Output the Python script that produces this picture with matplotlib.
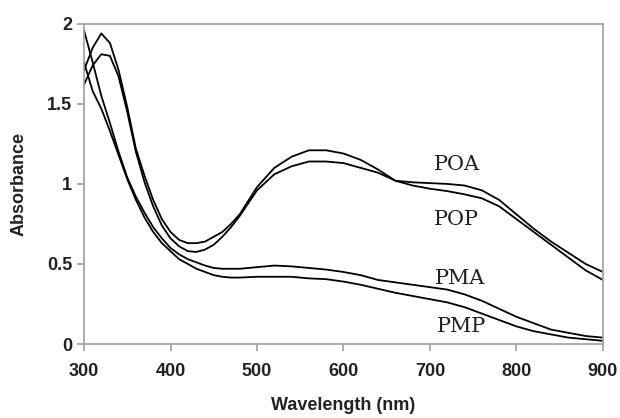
import numpy as np
import matplotlib.pyplot as plt

# wavelength grid (nm)
wl = [300, 310, 320, 330, 340, 350, 360, 370, 380, 390, 400, 410, 420, 430, 440, 450, 460, 470, 480,
      500, 520, 540, 560, 580, 600, 620, 640, 660, 680, 700, 720, 740, 760, 780, 800, 820, 840, 860, 880, 900]

poa = [1.71, 1.85, 1.94, 1.88, 1.71, 1.48, 1.22, 1.05, 0.90, 0.78, 0.70, 0.65, 0.63, 0.63, 0.64, 0.67, 0.70, 0.75, 0.81,
       0.98, 1.10, 1.17, 1.21, 1.21, 1.19, 1.15, 1.09, 1.02, 1.01, 1.005, 1.0, 0.99, 0.96, 0.90, 0.81, 0.72, 0.64, 0.57, 0.50, 0.45]
pop = [1.62, 1.74, 1.81, 1.80, 1.67, 1.45, 1.20, 1.01, 0.86, 0.74, 0.66, 0.61, 0.58, 0.575, 0.59, 0.62, 0.67, 0.73, 0.80,
       0.96, 1.06, 1.11, 1.14, 1.14, 1.13, 1.10, 1.07, 1.02, 0.99, 0.97, 0.955, 0.935, 0.91, 0.86, 0.78, 0.70, 0.62, 0.54, 0.46, 0.40]
pma = [1.96, 1.76, 1.55, 1.38, 1.20, 1.04, 0.92, 0.82, 0.73, 0.66, 0.60, 0.56, 0.53, 0.51, 0.49, 0.475, 0.47, 0.47, 0.47,
       0.48, 0.49, 0.485, 0.475, 0.465, 0.45, 0.43, 0.40, 0.385, 0.37, 0.355, 0.34, 0.31, 0.27, 0.22, 0.17, 0.13, 0.09, 0.07, 0.05, 0.04]
pmp = [1.76, 1.58, 1.47, 1.33, 1.18, 1.03, 0.90, 0.79, 0.70, 0.63, 0.58, 0.53, 0.50, 0.47, 0.45, 0.43, 0.42, 0.415, 0.415,
       0.42, 0.42, 0.42, 0.41, 0.405, 0.39, 0.37, 0.345, 0.32, 0.30, 0.28, 0.26, 0.23, 0.19, 0.15, 0.11, 0.08, 0.06, 0.04, 0.03, 0.02]

labels = ['POA', 'POP', 'PMA', 'PMP']
label_pos = [(731, 1.12), (731, 0.775), (735, 0.41), (737, 0.11)]

plt.rcParams['font.family'] = ['Liberation Sans', 'DejaVu Sans']

fig = plt.figure(figsize=(6.2, 4.18), dpi=100)
ax = fig.add_axes([0.1355, 0.177, 0.837, 0.766])

for y in [poa, pop, pma, pmp]:
    ax.plot(wl, y, color='black', lw=1.3)

for name, (x, y) in zip(labels, label_pos):
    ax.text(x, y, name, fontsize=15, family='DejaVu Serif', ha='center', va='center', color='#222222')

ax.set_xlim(300, 900)
ax.set_ylim(0, 2)
ax.set_xticks([300, 400, 500, 600, 700, 800, 900])
ax.set_yticks([0, 0.5, 1, 1.5, 2])
ax.set_yticklabels(['0', '0.5', '1', '1.5', '2'])
for s in ax.spines.values():
    s.set_color('#a0a0a0')
    s.set_linewidth(1.2)
ax.tick_params(colors='#a0a0a0', labelcolor='#222222', length=5, width=1.2, labelsize=13)
for t in ax.get_xticklabels() + ax.get_yticklabels():
    t.set_fontweight('bold')
ax.tick_params(axis='x', pad=9)
ax.set_xlabel('Wavelength (nm)', fontsize=13, fontweight='bold', color='#222222', labelpad=12)
ax.set_ylabel('Absorbance', fontsize=13, fontweight='bold', color='#222222', labelpad=14)

fig.savefig('out.png', dpi=100)
